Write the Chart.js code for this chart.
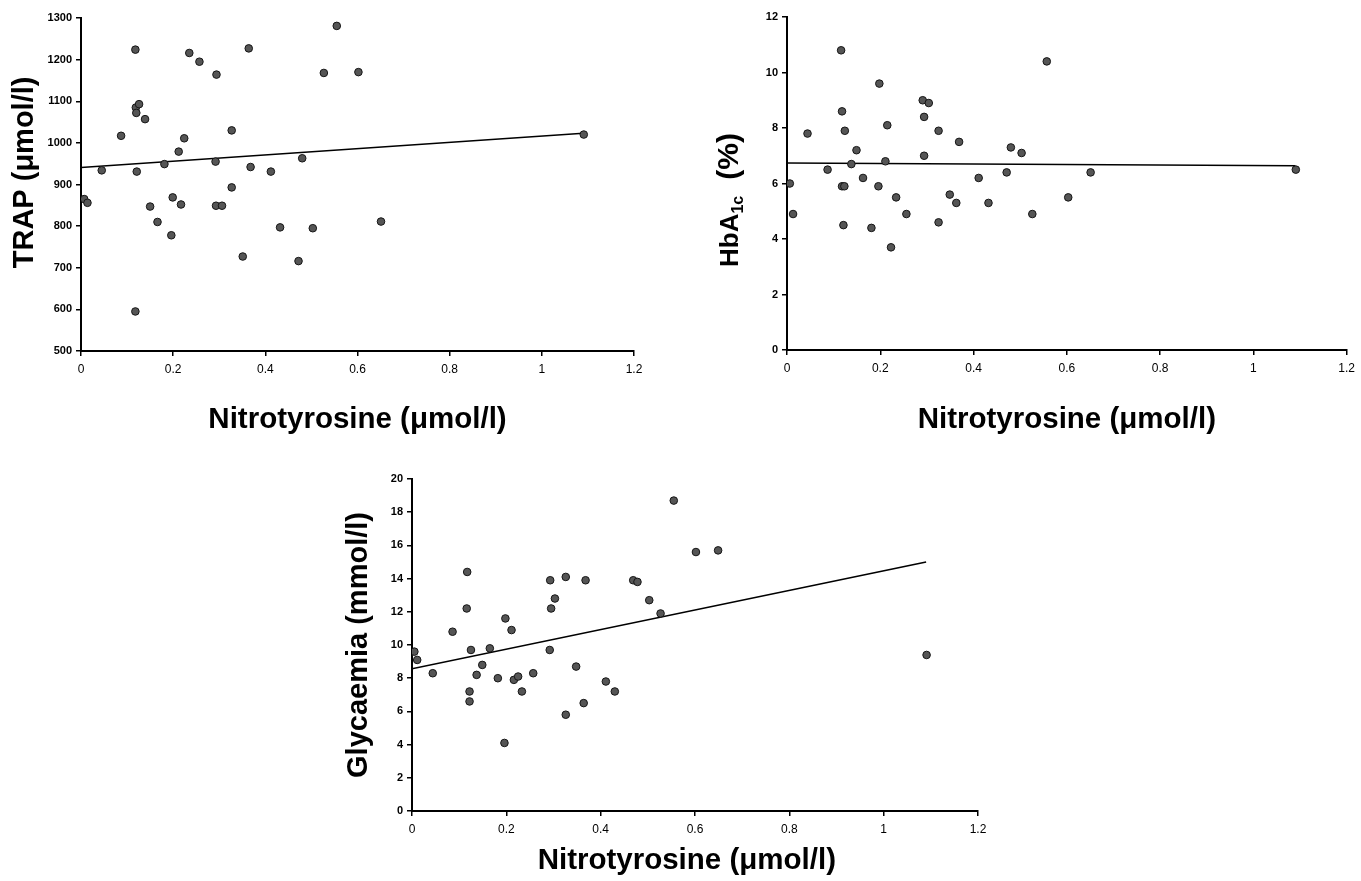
<!DOCTYPE html>
<html>
<head>
<meta charset="utf-8">
<script src="https://cdn.jsdelivr.net/npm/chart.js@4.4.1/dist/chart.umd.min.js"></script>
<style>
    html, body { margin: 0; padding: 0; background: #fff; }
    body { width: 1361px; height: 881px; position: relative; overflow: hidden; }
    canvas { position: absolute; }
    #trap-chart { left: 0; top: 0; }
    #hba-chart { left: 680px; top: 0; }
    #gly-chart { left: 320px; top: 440px; }
</style>
</head>
<body>
<canvas id="trap-chart" width="680" height="450"></canvas>
<canvas id="hba-chart" width="681" height="450"></canvas>
<canvas id="gly-chart" width="700" height="441"></canvas>

<script>
// ==============================
// DATA
// ==============================
const xTicks = [0, 0.2, 0.4, 0.6, 0.8, 1, 1.2];

// TRAP vs nitrotyrosine
const trapX = [0.007, 0.014, 0.045, 0.087, 0.118, 0.119, 0.120, 0.126, 0.121, 0.118,
               0.139, 0.150, 0.166, 0.181, 0.196, 0.199, 0.212, 0.217, 0.224, 0.235,
               0.257, 0.294, 0.292, 0.293, 0.306, 0.327, 0.327, 0.351, 0.364, 0.368,
               0.412, 0.432, 0.472, 0.480, 0.503, 0.527, 0.555, 0.602, 0.651, 1.091];
const trapY = [865, 856, 934, 1017, 1224, 1085, 1072, 1093, 931, 595,
               1057, 847, 810, 949, 778, 869, 979, 852, 1011, 1216,
               1195, 1164, 955, 849, 849, 1030, 893, 727, 1227, 942,
               931, 797, 716, 963, 795, 1168, 1281, 1170, 811, 1020];
const trapTrendX = [0, 1.09];
const trapTrendY = [941, 1023];

// HbA1c vs nitrotyrosine
const hbaX = [0.006, 0.013, 0.044, 0.087, 0.116, 0.118, 0.118, 0.123, 0.124, 0.121,
              0.138, 0.149, 0.163, 0.181, 0.196, 0.198, 0.211, 0.215, 0.223, 0.234,
              0.256, 0.291, 0.304, 0.294, 0.294, 0.325, 0.325, 0.349, 0.363, 0.369,
              0.411, 0.432, 0.471, 0.480, 0.503, 0.526, 0.557, 0.603, 0.651, 1.091];
const hbaY = [6.0, 4.9, 7.8, 6.5, 10.8, 8.6, 5.9, 5.9, 7.9, 4.5,
              6.7, 7.2, 6.2, 4.4, 5.9, 9.6, 6.8, 8.1, 3.7, 5.5,
              4.9, 9.0, 8.9, 8.4, 7.0, 7.9, 4.6, 5.6, 5.3, 7.5,
              6.2, 5.3, 6.4, 7.3, 7.1, 4.9, 10.4, 5.5, 6.4, 6.5];
const hbaTrendX = [0, 1.09];
const hbaTrendY = [6.74, 6.64];

// Glycaemia vs nitrotyrosine
const glyX = [0.005, 0.011, 0.044, 0.086, 0.117, 0.116, 0.122, 0.122, 0.125, 0.137,
              0.149, 0.165, 0.182, 0.196, 0.198, 0.211, 0.216, 0.225, 0.233, 0.257,
              0.293, 0.295, 0.303, 0.292, 0.326, 0.326, 0.348, 0.364, 0.368, 0.411,
              0.430, 0.469, 0.478, 0.503, 0.527, 0.555, 0.602, 0.649, 1.091];
const glyY = [9.6, 9.1, 8.3, 10.8, 14.4, 12.2, 7.2, 6.6, 9.7, 8.2,
              8.8, 9.8, 8.0, 4.1, 11.6, 10.9, 7.9, 8.1, 7.2, 8.3,
              13.9, 12.2, 12.8, 9.7, 14.1, 5.8, 8.7, 6.5, 13.9, 7.8,
              7.2, 13.9, 13.8, 12.7, 11.9, 18.7, 15.6, 15.7, 9.4];
const glyTrendX = [0, 1.09];
const glyTrendY = [8.57, 15.0];

const FONT = "'Liberation Sans', Arial, Helvetica, sans-serif";

// ==============================
// HbA1c axis title (needs a subscript)
// ==============================
function subscriptTitle(spec) {
    return {
        id: 'subscriptTitle',
        afterDraw(chart) {
            const ctx = chart.ctx;
            ctx.save();
            ctx.translate(spec.x, spec.y);
            ctx.rotate(-Math.PI / 2);
            ctx.fillStyle = '#000';
            ctx.textBaseline = 'alphabetic';
            ctx.textAlign = 'left';
            let pos = 0;
            spec.parts.forEach(p => {
                ctx.font = 'bold ' + p.size + 'px ' + FONT;
                ctx.fillText(p.text, pos, p.shift || 0);
                pos += ctx.measureText(p.text).width + (p.gap || 0);
            });
            ctx.restore();
        }
    };
}

function pairs(xs, ys) {
    return xs.map((x, i) => ({ x: x, y: ys[i] }));
}

function makeScatter(id, cfg) {
    const ctx = document.getElementById(id);
    return new Chart(ctx, {
        type: 'scatter',
        data: {
            datasets: [
                {
                    data: pairs(cfg.xs, cfg.ys),
                    pointRadius: 3.8,
                    backgroundColor: '#555',
                    borderColor: '#151515',
                    borderWidth: 1
                },
                {
                    type: 'line',
                    data: pairs(cfg.trendX, cfg.trendY),
                    borderColor: '#000',
                    borderWidth: 1.6,
                    pointRadius: 0,
                    fill: false
                }
            ]
        },
        options: {
            responsive: false,
            animation: false,
            layout: { padding: cfg.padding },
            plugins: {
                legend: { display: false },
                tooltip: { enabled: false }
            },
            scales: {
                x: {
                    type: 'linear',
                    min: 0, max: 1.2,
                    afterBuildTicks: s => { s.ticks = xTicks.map(v => ({ value: v })); },
                    afterFit: s => { s.height = cfg.xHeight; },
                    grid: { drawOnChartArea: false, drawTicks: true, tickLength: 5, color: '#000', lineWidth: 1.5 },
                    border: { display: true, color: '#000', width: 2 },
                    ticks: {
                        color: '#000', padding: 6,
                        font: { family: FONT, size: 12 },
                        callback: v => String(Math.round(v * 10) / 10)
                    },
                    title: {
                        display: true,
                        text: cfg.xTitle,
                        color: '#000',
                        font: { family: FONT, size: 29.5, weight: 'bold' },
                        padding: { top: 0, bottom: cfg.xTitlePad }
                    }
                },
                y: {
                    min: cfg.yMin, max: cfg.yMax,
                    ticks: {
                        stepSize: cfg.yStep, color: '#000', padding: 4,
                        font: { family: FONT, size: 11, weight: 'bold' },
                        callback: v => String(v)
                    },
                    afterFit: s => { s.width = cfg.yWidth; },
                    grid: { drawOnChartArea: false, drawTicks: true, tickLength: 5, color: '#000', lineWidth: 1.5 },
                    border: { display: true, color: '#000', width: 2 },
                    title: {
                        display: !!cfg.yTitle,
                        text: cfg.yTitle || '',
                        color: '#000',
                        font: { family: FONT, size: 29, weight: 'bold' },
                        padding: { top: cfg.yTitlePad, bottom: 0 }
                    }
                }
            }
        },
        plugins: cfg.subTitle ? [subscriptTitle(cfg.subTitle)] : []
    });
}

document.addEventListener("DOMContentLoaded", function () {
    makeScatter('trap-chart', {
        xs: trapX, ys: trapY, trendX: trapTrendX, trendY: trapTrendY,
        yMin: 500, yMax: 1300, yStep: 100,
        yTitle: '   TRAP (\u03bcmol/l)', yTitlePad: 8,
        xTitle: 'Nitrotyrosine (\u03bcmol/l)',
        padding: { top: 18, right: 46, left: 0, bottom: 0 },
        yWidth: 81, xHeight: 99, xTitlePad: 12
    });

    makeScatter('hba-chart', {
        xs: hbaX, ys: hbaY, trendX: hbaTrendX, trendY: hbaTrendY,
        yMin: 0, yMax: 12, yStep: 2,
        yTitle: null, yTitlePad: 0,
        xTitle: 'Nitrotyrosine (\u03bcmol/l)',
        padding: { top: 17, right: 8, left: 0, bottom: 0 },
        yWidth: 107, xHeight: 100, xTitlePad: 12,
        subTitle: {
            x: 58, y: 267,
            parts: [
                { text: 'HbA', size: 26 },
                { text: '1c', size: 16, shift: 5, gap: 16 },
                { text: '(%)', size: 30 }
            ]
        }
    });

    makeScatter('gly-chart', {
        xs: glyX, ys: glyY, trendX: glyTrendX, trendY: glyTrendY,
        yMin: 0, yMax: 20, yStep: 2,
        yTitle: 'Glycaemia (mmol/l)', yTitlePad: 22,
        xTitle: 'Nitrotyrosine (\u03bcmol/l)  ',
        padding: { top: 39, right: 42, left: 0, bottom: 0 },
        yWidth: 92, xHeight: 70, xTitlePad: 2
    });
});
</script>
</body>
</html>
